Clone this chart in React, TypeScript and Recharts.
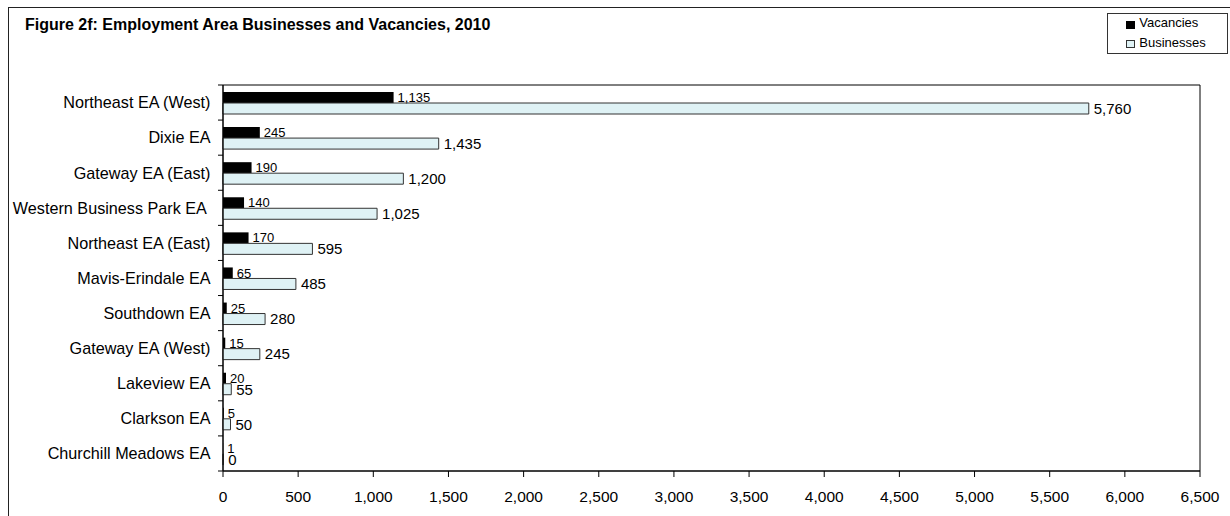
import React from "react";
import {
  BarChart,
  Bar,
  XAxis,
  YAxis,
  LabelList,
  Legend,
  ReferenceArea,
} from "recharts";

const categories = [
  "Northeast EA (West)",
  "Dixie EA",
  "Gateway EA (East)",
  "Western Business Park EA ",
  "Northeast EA (East)",
  "Mavis-Erindale EA",
  "Southdown EA",
  "Gateway EA (West)",
  "Lakeview EA",
  "Clarkson EA",
  "Churchill Meadows EA",
];
const vacancies = [1135, 245, 190, 140, 170, 65, 25, 15, 20, 5, 1];
const businesses = [5760, 1435, 1200, 1025, 595, 485, 280, 245, 55, 50, 0];
const xTicks = [0, 500, 1000, 1500, 2000, 2500, 3000, 3500, 4000, 4500, 5000, 5500, 6000, 6500];

const data = categories.map((name, i) => ({
  name,
  Vacancies: vacancies[i],
  Businesses: businesses[i],
}));

const FONT = '"Liberation Sans", Arial, Helvetica, sans-serif';
const W = 1221;
const H = 508;
const MARGIN = { top: 77, right: 30, bottom: 15, left: 0 };
const XAXIS_H = 30;
const PLOT_H = H - MARGIN.top - MARGIN.bottom - XAXIS_H;
const BAND_HALF = PLOT_H / categories.length / 2;
const LIGHT = "#DFF2F5";

const fmt = (v: any) => Number(v).toLocaleString("en-US");

function YTick(props: any) {
  const { x, y, payload, index } = props;
  return (
    <g>
      <text
        x={x - 12.5}
        y={y}
        dy="0.36em"
        textAnchor="end"
        fontSize={16.2}
        fill="#000"
        fontFamily={FONT}
        style={{ whiteSpace: "pre" }}
      >
        {payload.value}
      </text>
      <line x1={x - 5} x2={x} y1={y + BAND_HALF} y2={y + BAND_HALF} stroke="#000" />
      {index === 0 ? (
        <line x1={x - 5} x2={x} y1={y - BAND_HALF} y2={y - BAND_HALF} stroke="#000" />
      ) : null}
    </g>
  );
}

function LegendBox() {
  const text: React.CSSProperties = {
    position: "absolute",
    left: 31,
    fontSize: 13,
    lineHeight: "13px",
    fontFamily: FONT,
    color: "#000",
    whiteSpace: "nowrap",
  };
  return (
    <div
      style={{
        width: 121,
        height: 41,
        border: "1px solid #333",
        boxSizing: "border-box",
        position: "relative",
        background: "#fff",
      }}
    >
      <div style={{ position: "absolute", left: 18, top: 6.4, width: 9, height: 8, background: "#000" }} />
      <span style={{ ...text, top: 2.2 }}>Vacancies</span>
      <div
        style={{
          position: "absolute",
          left: 18,
          top: 25.7,
          width: 9,
          height: 8,
          background: LIGHT,
          border: "1px solid #333",
          boxSizing: "border-box",
        }}
      />
      <span style={{ ...text, top: 21.6 }}>Businesses</span>
    </div>
  );
}

export default function App() {
  return (
    <div
      style={{
        position: "absolute",
        left: 8,
        top: 7,
        width: W,
        height: H,
        borderTop: "1px solid #222",
        borderLeft: "1px solid #222",
        fontFamily: FONT,
        background: "#fff",
      }}
    >
      <div
        style={{
          position: "absolute",
          left: 16,
          top: 8.5,
          fontSize: 16,
          lineHeight: "16px",
          fontWeight: "bold",
          fontFamily: FONT,
          color: "#000",
          whiteSpace: "nowrap",
        }}
      >
        Figure 2f: Employment Area Businesses and Vacancies, 2010
      </div>
      <BarChart
        width={W}
        height={H}
        data={data}
        layout="vertical"
        margin={MARGIN}
        barSize={11}
        barGap={0}
        style={{ fontFamily: FONT }}
      >
        <ReferenceArea x1={0} x2={6500} fill="none" stroke="#000" strokeWidth={1} ifOverflow="visible" />
        <XAxis
          type="number"
          domain={[0, 6500]}
          ticks={xTicks}
          interval={0}
          height={XAXIS_H}
          tickFormatter={fmt}
          tick={{ fontSize: 15.5, fill: "#000", fontFamily: FONT }}
          tickSize={6}
          tickMargin={14}
          tickLine={{ stroke: "#000" }}
          axisLine={{ stroke: "#000" }}
        />
        <YAxis
          type="category"
          dataKey="name"
          width={214}
          interval={0}
          tickSize={0}
          tickMargin={0}
          tickLine={false}
          axisLine={{ stroke: "#000" }}
          tick={<YTick />}
        />
        <Legend
          layout="horizontal"
          verticalAlign="middle"
          align="center"
          wrapperStyle={{ top: 5.3, left: 1098.3, width: 121, height: 41 }}
          content={() => <LegendBox />}
        />
        <Bar dataKey="Vacancies" fill="#000" isAnimationActive={false}>
          <LabelList
            dataKey="Vacancies"
            position="right"
            offset={4}
            formatter={fmt}
            style={{ fontSize: 13, fill: "#000", fontFamily: FONT }}
          />
        </Bar>
        <Bar
          dataKey="Businesses"
          fill={LIGHT}
          stroke="#333"
          strokeWidth={1}
          minPointSize={0.3}
          isAnimationActive={false}
        >
          <LabelList
            dataKey="Businesses"
            position="right"
            offset={5}
            formatter={fmt}
            style={{ fontSize: 15, fill: "#000", fontFamily: FONT }}
          />
        </Bar>
      </BarChart>
    </div>
  );
}
